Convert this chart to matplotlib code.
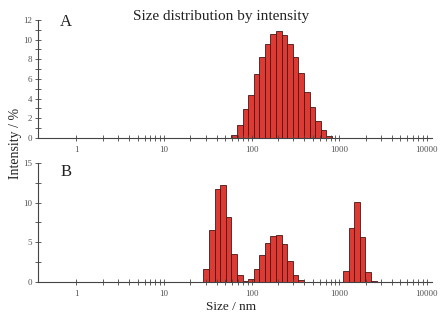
import matplotlib
matplotlib.use("Agg")
import matplotlib.pyplot as plt
from matplotlib.ticker import FixedLocator, NullFormatter, FuncFormatter, MultipleLocator
import numpy as np

# Size classes (nm), bin edges
size_edges = [28.21, 32.67, 37.84, 43.82, 50.75, 58.77, 68.06, 78.82, 91.28, 105.7,
              122.4, 141.8, 164.2, 190.1, 220.2, 255.0, 295.3, 342.0, 396.1, 458.7,
              531.2, 615.1, 712.4, 825.0, 955.4, 1106, 1281, 1484, 1718, 1990,
              2305, 2669]

# Panel A: intensity (%) for bins starting at 58.77 nm
a_start = 58.77
a_values = [0.3, 1.3, 2.9, 4.4, 6.5, 8.2, 9.6, 10.6, 10.9, 10.5, 9.6, 8.2, 6.6,
            4.7, 3.1, 1.7, 0.8, 0.2]

# Panel B: three populations
b1_start = 28.21
b1_values = [1.6, 6.55, 11.7, 12.25, 8.15, 3.55, 0.85, 0.13, 0.4, 1.6, 3.4, 4.9,
             5.8, 5.85, 4.8, 2.6, 0.93, 0.2]
b2_start = 1106
b2_values = [1.4, 6.75, 10.05, 5.6, 1.2, 0.17]

x_major = [1, 10, 100, 1000, 10000]

title = "Size distribution by intensity"
xlabel = "Size / nm"
ylabel = "Intensity / %"

plt.rcParams['font.family'] = ['Liberation Serif', 'DejaVu Serif']

fig = plt.figure(figsize=(4.47, 3.2), dpi=100)
axA = fig.add_axes([0.085, 0.569, 0.881, 0.3685])
axB = fig.add_axes([0.085, 0.119, 0.881, 0.372])

bar_color = '#dc3a33'
edge_color = '#4a1616'


def draw(ax, start, values):
    i0 = size_edges.index(start)
    lefts = np.array(size_edges[i0:i0 + len(values)])
    rights = np.array(size_edges[i0 + 1:i0 + 1 + len(values)])
    ax.bar(lefts, values, width=rights - lefts, align='edge', color=bar_color,
           edgecolor=edge_color, linewidth=0.6)


draw(axA, a_start, a_values)
draw(axB, b1_start, b1_values)
draw(axB, b2_start, b2_values)

minor_x = [m * d for d in x_major[:-1] for m in range(2, 10)]

for ax, ymax, major, minor in [(axA, 12, 2, 1), (axB, 15, 5, 2.5)]:
    ax.set_xscale('log')
    ax.set_xlim(0.365, 11400)
    ax.set_ylim(0, ymax)
    ax.spines['top'].set_visible(False)
    ax.spines['right'].set_visible(False)
    for s in ('left', 'bottom'):
        ax.spines[s].set_color('#444444')
        ax.spines[s].set_linewidth(0.8)
    ax.xaxis.set_major_locator(FixedLocator(x_major))
    ax.xaxis.set_major_formatter(FuncFormatter(lambda v, p: f"{int(round(v))}"))
    ax.xaxis.set_minor_locator(FixedLocator(minor_x))
    ax.xaxis.set_minor_formatter(NullFormatter())
    ax.yaxis.set_major_locator(MultipleLocator(major))
    ax.yaxis.set_minor_locator(MultipleLocator(minor))
    ax.tick_params(axis='both', which='both', direction='inout', colors='#444444',
                   labelcolor='#555555', labelsize=6.5, width=0.6, length=4, pad=2)
    ax.tick_params(axis='x', pad=4)
    ax.patch.set_alpha(0)

axA.text(0.07, 0.985, "A", transform=axA.transAxes, fontsize=12, va='center', ha='center',
         color='#222222')
axB.text(0.07, 0.924, "B", transform=axB.transAxes, fontsize=12, va='center', ha='center',
         color='#222222')
fig.text(0.494, 0.947, title, fontsize=11, ha='center', va='center', color='#222222')
fig.text(0.518, 0.04, xlabel, fontsize=9.5, ha='center', va='center', color='#222222')
fig.text(0.034, 0.553, ylabel, fontsize=10, ha='center', va='center', rotation=90,
         color='#222222')

fig.savefig("out.png", dpi=100)
